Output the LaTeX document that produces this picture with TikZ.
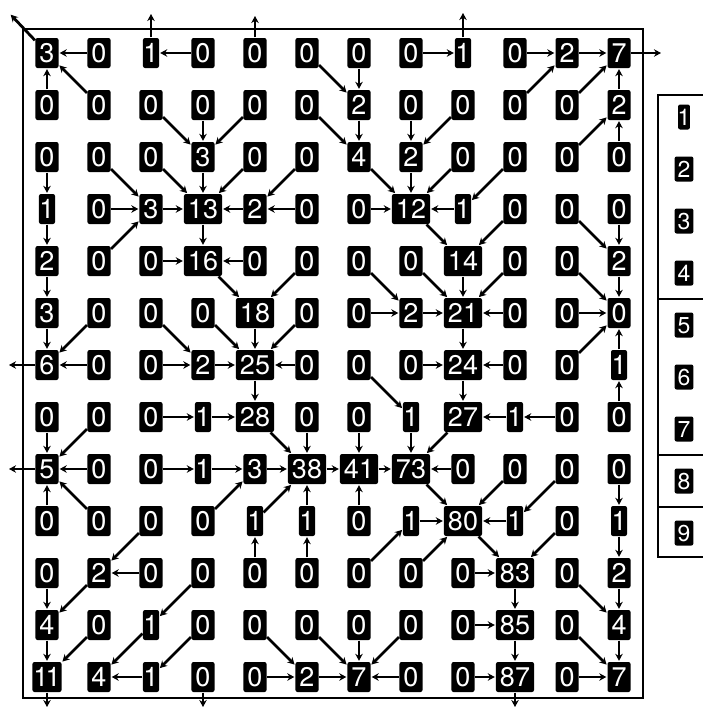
\documentclass[tikz,border=0pt]{standalone}
\usepackage{fontspec}
\setmainfont{TeX Gyre Heros}
\usetikzlibrary{arrows.meta}
\newcommand\cellnum[1]{\ifnum#1=1 \kern-3.5pt1\kern-3.5pt\else\ifnum#1=11 \kern-3pt1\kern-3pt1\kern-3pt\else#1\fi\fi}
\begin{document}
\begin{tikzpicture}[x=1pt,y=-1pt,
 cell/.style={fill=black,text=white,rounded corners=2pt,inner xsep=4pt,inner ysep=0pt,minimum height=30pt,font=\fontsize{27}{27}\selectfont,text height=19.2pt,text depth=0pt},
 legcell/.style={cell,minimum height=25pt,inner xsep=3pt,font=\fontsize{23}{23}\selectfont,text height=16.4pt},
 flow/.style={line width=2.8pt,-{Stealth[length=7pt,width=7.5pt]},shorten >=1pt,shorten <=0.5pt},
 frame/.style={line width=2pt}]
\useasboundingbox (0,0) rectangle (702,707);
\draw[frame] (23,29) rectangle (643,698);
\foreach \vals [count=\r] in {
 {3,0,1,0,0,0,0,0,1,0,2,7},
 {0,0,0,0,0,0,2,0,0,0,0,2},
 {0,0,0,3,0,0,4,2,0,0,0,0},
 {1,0,3,13,2,0,0,12,1,0,0,0},
 {2,0,0,16,0,0,0,0,14,0,0,2},
 {3,0,0,0,18,0,0,2,21,0,0,0},
 {6,0,0,2,25,0,0,0,24,0,0,1},
 {0,0,0,1,28,0,0,1,27,1,0,0},
 {5,0,0,1,3,38,41,73,0,0,0,0},
 {0,0,0,0,1,1,0,1,80,1,0,1},
 {0,2,0,0,0,0,0,0,0,83,0,2},
 {4,0,1,0,0,0,0,0,0,85,0,4},
 {11,4,1,0,0,2,7,0,0,87,0,7}}{
  \foreach \v [count=\c] in \vals {
    \node[cell] (n-\r-\c) at ({47+52*(\c-1)},{53+52*(\r-1)}) {\cellnum{\v}};
  }
}
\foreach \ra/\ca/\rb/\cb in {
1/2/1/1, 1/4/1/3, 1/6/2/7, 1/7/2/7, 1/8/1/9, 1/10/1/11, 1/11/1/12,
2/1/1/1, 2/2/1/1, 2/3/3/4, 2/4/3/4, 2/5/3/4, 2/6/3/7, 2/7/3/7, 2/8/3/8, 2/9/3/8, 2/10/1/11, 2/11/1/12, 2/12/1/12,
3/1/4/1, 3/2/4/3, 3/3/4/4, 3/4/4/4, 3/5/4/4, 3/6/4/5, 3/7/4/8, 3/8/4/8, 3/9/4/8, 3/10/4/9, 3/11/2/12, 3/12/2/12,
4/1/5/1, 4/2/4/3, 4/3/4/4, 4/4/5/4, 4/5/4/4, 4/6/4/5, 4/7/4/8, 4/8/5/9, 4/9/4/8, 4/10/5/9, 4/11/5/12, 4/12/5/12,
5/1/6/1, 5/2/4/3, 5/3/5/4, 5/4/6/5, 5/5/5/4, 5/6/6/5, 5/7/6/8, 5/8/6/9, 5/9/6/9, 5/10/6/9, 5/11/6/12, 5/12/6/12,
6/1/7/1, 6/2/7/1, 6/3/7/4, 6/4/7/5, 6/5/7/5, 6/6/7/5, 6/7/6/8, 6/8/6/9, 6/9/7/9, 6/10/6/9, 6/11/6/12,
7/2/7/1, 7/3/7/4, 7/4/7/5, 7/5/8/5, 7/6/7/5, 7/7/8/8, 7/8/7/9, 7/9/8/9, 7/10/7/9, 7/11/6/12, 7/12/6/12,
8/1/9/1, 8/2/9/1, 8/3/8/4, 8/4/8/5, 8/5/9/6, 8/6/9/6, 8/7/9/7, 8/8/9/8, 8/9/9/8, 8/10/8/9, 8/11/8/10, 8/12/7/12,
9/2/9/1, 9/3/9/4, 9/4/9/5, 9/5/9/6, 9/6/9/7, 9/7/9/8, 9/8/10/9, 9/9/9/8, 9/10/10/9, 9/11/10/10, 9/12/10/12,
10/1/9/1, 10/2/9/1, 10/3/11/2, 10/4/9/5, 10/5/9/6, 10/6/9/6, 10/7/9/7, 10/8/10/9, 10/9/11/10, 10/10/10/9, 10/11/11/10, 10/12/11/12,
11/1/12/1, 11/2/12/1, 11/3/11/2, 11/4/12/3, 11/5/10/5, 11/6/10/6, 11/7/10/8, 11/8/10/9, 11/9/11/10, 11/10/12/10, 11/11/12/12, 11/12/12/12,
12/1/13/1, 12/2/13/1, 12/3/13/2, 12/4/13/3, 12/5/13/6, 12/6/13/7, 12/7/13/7, 12/8/13/7, 12/9/12/10, 12/10/13/10, 12/11/13/12, 12/12/13/12,
13/3/13/2, 13/5/13/6, 13/6/13/7, 13/8/13/7, 13/9/13/10, 13/11/13/12}{
  \draw[flow] (n-\ra-\ca) -- (n-\rb-\cb);
}
% outlets
\coordinate (o11) at (10,14);
\coordinate (o13) at (151,13);
\coordinate (o15) at (255,15);
\coordinate (o19) at (463,12);
\coordinate (o112) at (662,53);
\coordinate (o71) at (8,365);
\coordinate (o91) at (8,469);
\coordinate (o131) at (47,707);
\coordinate (o134) at (203,707);
\coordinate (o1310) at (515,707);
\draw[flow] (n-1-1) -- (o11);
\draw[flow] (n-1-3) -- (o13);
\draw[flow] (n-1-5) -- (o15);
\draw[flow] (n-1-9) -- (o19);
\draw[flow] (n-1-12) -- (o112);
\draw[flow] (n-7-1) -- (o71);
\draw[flow] (n-9-1) -- (o91);
\draw[flow,shorten >=0pt] (n-13-1) -- (o131);
\draw[flow,shorten >=0pt] (n-13-4) -- (o134);
\draw[flow,shorten >=0pt] (n-13-10) -- (o1310);
% legend
\draw[frame,line width=1.6pt] (710,95) -- (658,95) -- (658,557) -- (710,557);
\foreach \yy in {299,455,507} \draw[line width=1.2pt] (658,\yy) -- (710,\yy);
\foreach \i in {1,...,9} {
  \node[legcell] (l\i) at (684,{117+52*(\i-1)}) {\cellnum{\i}};
}
\end{tikzpicture}
\end{document}
